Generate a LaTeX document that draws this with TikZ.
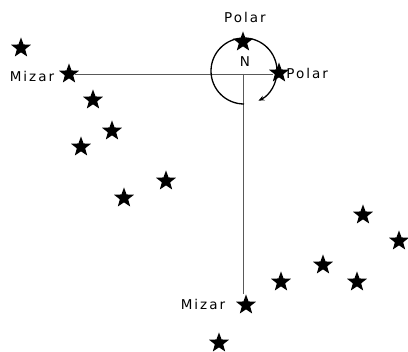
\documentclass[tikz,border=0pt]{standalone}
\usepackage{fontspec}
\setmainfont{DejaVu Sans}[LetterSpace=15]
\usetikzlibrary{shapes.geometric,positioning,arrows.meta}
\tikzset{
  st/.style={star,star points=5,star point ratio=2.4,fill=black,draw=none,minimum size=21pt,inner sep=0pt},
  lbl/.style={font=\fontsize{13.5}{15}\selectfont,inner sep=1pt},
  axis/.style={draw=black!65,line width=0.8pt}
}
\begin{document}
\begin{tikzpicture}[x=1pt,y=1pt]
  \useasboundingbox (0,0) rectangle (408,352);
  \coordinate (pole) at (243,278);
  \coordinate (c) at (244,281);

  \node[st] (s1) at (21,304) {};
  \node[st] (mizarA) at (69,278) {};
  \node[st] (s3) at (93,252) {};
  \node[st] (s4) at (112,221) {};
  \node[st] (s5) at (81,205) {};
  \node[st] (s6) at (124,154) {};
  \node[st] (s7) at (166,171) {};
  \node[st] (polarA) at (243,310) {};
  \node[st] (polarB) at (279,279) {};
  \node[st] (t1) at (363,137) {};
  \node[st] (t2) at (399,111) {};
  \node[st] (t3) at (323,87) {};
  \node[st] (t4) at (281,70) {};
  \node[st] (t5) at (357,70) {};
  \node[st] (mizarB) at (246,47) {};
  \node[st] (t6) at (219,9) {};

  \draw[axis] (mizarA) -- (mizarA -| polarB.west);
  \draw[axis] (pole) -- (pole |- mizarB.north);
  \draw[line width=1.3pt,-{Stealth[length=6pt,width=5pt]}] ([shift={(270:33)}]c) arc[start angle=270,end angle=-64,radius=33];

  \node[lbl] (polarAlbl) at (245,335) {Polar};
  \node[lbl,right=0pt of polarB] (polarBlbl) {Polar};
  \node[lbl] (mizarAlbl) at (32,276) {Mizar};
  \node[lbl] (mizarBlbl) at (203,48) {Mizar};
  \node[lbl] (north) at (245,290) {N};
\end{tikzpicture}
\end{document}
